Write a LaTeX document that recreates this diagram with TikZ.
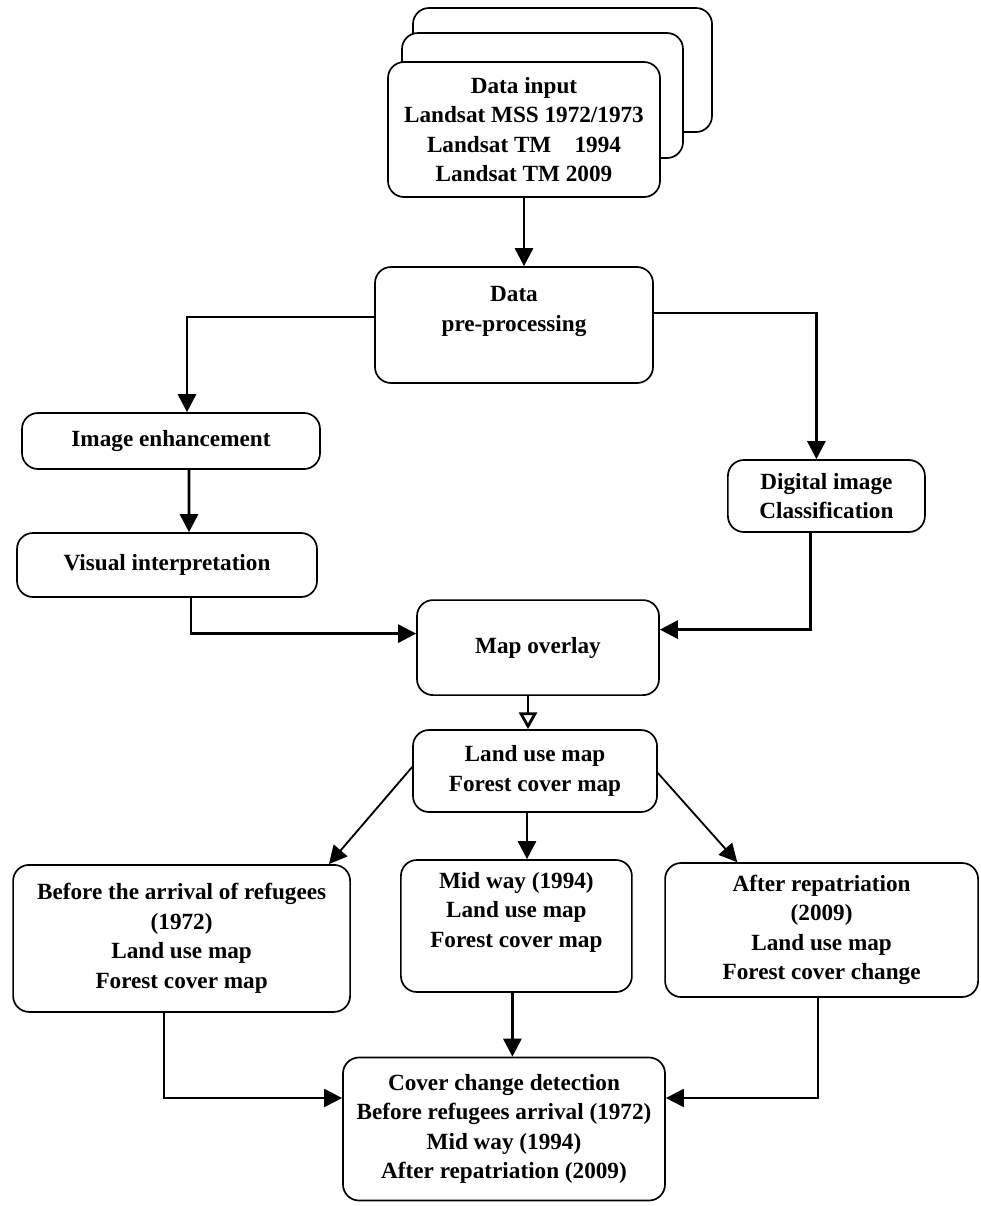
\documentclass[tikz,border=0pt]{standalone}
\usepackage{fontspec}
\setmainfont{Liberation Serif}
\usetikzlibrary{arrows.meta}
\begin{document}
\begin{tikzpicture}[
		box/.style={draw, fill=white, rounded corners=0.4cm, line width=1.2pt, align=center, inner sep=2pt,
			font=\bfseries\fontsize{16.5}{21}\selectfont},
		flow/.style={line width=2pt, -{Triangle[length=0.45cm,width=0.45cm]}},
		thinflow/.style={line width=1.3pt, -{Triangle[length=0.45cm,width=0.45cm]}}]
	\useasboundingbox (0,0) rectangle (24.525,-30.15);
	% stacked sheets behind the input
	\draw[line width=1.2pt, rounded corners=0.4cm, fill=white] (10.325,-0.2) rectangle (17.8,-3.3);
	\draw[line width=1.2pt, rounded corners=0.4cm, fill=white] (10.05,-0.825) rectangle (17.075,-3.95);
	\node[box, minimum width=6.8cm, minimum height=3.375cm] (input) at (13.1,-3.2375)
		{Data input\\Landsat MSS 1972/1973\\Landsat TM\quad 1994\\Landsat TM 2009};
	\node[box, minimum width=6.95cm, minimum height=2.9cm] (prep) at (12.85,-8.125) {Data\\pre-processing\\[2pt]};
	\node[box, minimum width=7.45cm, minimum height=1.4cm] (enh) at (4.275,-11.025) {Image enhancement};
	\node[box, minimum width=7.5cm, minimum height=1.6cm] (vis) at (4.175,-14.125) {Visual interpretation};
	\node[box, minimum width=4.925cm, minimum height=1.8cm] (dig) at (20.66,-12.4) {Digital image\\Classification};
	\node[box, minimum width=6.05cm, minimum height=2.375cm] (overlay) at (13.45,-16.19) {Map overlay};
	\node[box, minimum width=6.1cm, minimum height=2.05cm] (landuse) at (13.375,-19.275) {Land use map\\Forest cover map};
	\node[box, minimum width=8.425cm, minimum height=3.675cm] (before) at (4.54,-23.46)
		{Before the arrival of refugees\\(1972)\\Land use map\\Forest cover map};
	\node[box, minimum width=5.775cm, minimum height=3.3cm] (mid) at (12.91,-23.15)
		{Mid way (1994)\\Land use map\\Forest cover map\\[2pt]};
	\node[box, minimum width=7.825cm, minimum height=3.35cm] (after) at (20.54,-23.25)
		{After repatriation\\(2009)\\Land use map\\Forest cover change};
	\node[box, minimum width=8.05cm, minimum height=3.575cm] (final) at (12.6,-28.225)
		{Cover change detection\\Before refugees arrival (1972)\\Mid way (1994)\\After repatriation (2009)};
	% connectors
	\draw[flow] (input.south) -- (input.south |- prep.north);
	\draw[flow] ([yshift=0.2cm]prep.west) -| ([xshift=0.4cm]enh.north);
	\draw[flow] ([yshift=0.3cm]prep.east) -| ([xshift=-0.25cm]dig.north);
	\draw[flow] ([xshift=0.45cm]enh.south) -- ([xshift=0.55cm]vis.north);
	\draw[flow] ([xshift=0.6cm]vis.south) |- ([yshift=0.35cm]overlay.west);
	\draw[flow] ([xshift=-0.4cm]dig.south) |- ([yshift=0.45cm]overlay.east);
	\draw[line width=2pt, -{Triangle[open,length=0.42cm,width=0.45cm]}] ([xshift=-0.25cm]overlay.south) -- ([xshift=-0.25cm]overlay.south |- landuse.north);
	\draw[thinflow] ([yshift=0.1cm]landuse.west) -- ([xshift=-0.55cm]before.north east);
	\draw[flow] ([xshift=-0.2cm]landuse.south) -- ([xshift=-0.2cm]landuse.south |- mid.north);
	\draw[thinflow] ([yshift=-0.05cm]landuse.east) -- ([xshift=1.825cm]after.north west);
	\draw[thinflow] ([xshift=-0.45cm]before.south) |- ([yshift=0.775cm]final.west);
	\draw[flow] ([xshift=-0.1cm]mid.south) -- ([xshift=-0.1cm]mid.south |- final.north);
	\draw[thinflow] ([xshift=-0.1cm]after.south) |- ([yshift=0.775cm]final.east);
\end{tikzpicture}
\end{document}
